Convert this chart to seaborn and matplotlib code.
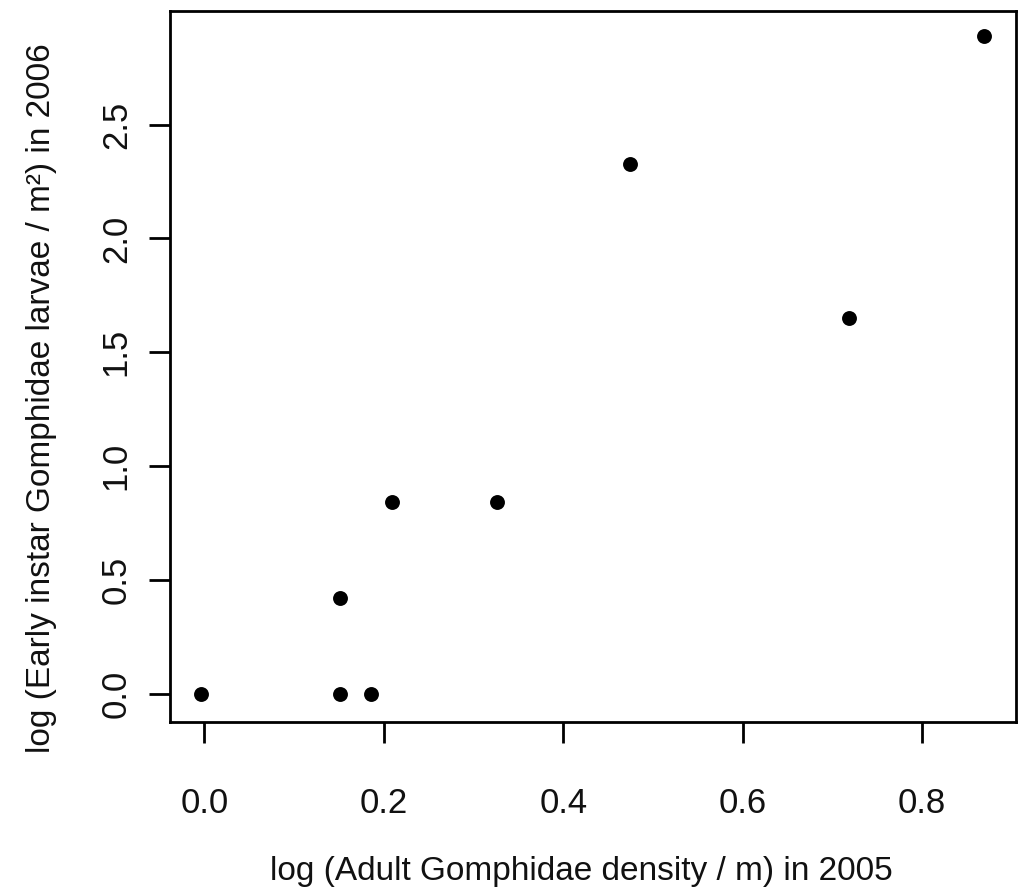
import matplotlib
matplotlib.use("Agg")
import matplotlib.pyplot as plt
import seaborn as sns

# log adult density 2005 vs log early instar larvae 2006
adult_2005 = [-0.004, 0.151, 0.186, 0.151, 0.209, 0.326, 0.474, 0.719, 0.869]
larvae_2006 = [0.0, 0.0, 0.0, 0.423, 0.844, 0.844, 2.328, 1.651, 2.890]

x_ticks = [0.0, 0.2, 0.4, 0.6, 0.8]
y_ticks = [0.0, 0.5, 1.0, 1.5, 2.0, 2.5]


def main():
    sns.set_style("ticks")
    plt.rcParams["font.family"] = ["Liberation Sans", "DejaVu Sans"]

    fig = plt.figure(figsize=(10.24, 8.96), dpi=100)
    ax = fig.add_axes([0.1663, 0.1942, 0.8262, 0.7938])

    sns.scatterplot(x=adult_2005, y=larvae_2006, ax=ax, color="black",
                    s=115, linewidth=0, marker="o")

    ax.set_xlim(-0.038, 0.905)
    ax.set_ylim(-0.123, 3.0)
    ax.set_xticks(x_ticks)
    ax.set_xticklabels([f"{t:.1f}" for t in x_ticks])
    ax.set_yticks(y_ticks)
    ax.set_yticklabels([f"{t:.1f}" for t in y_ticks], rotation=90, va="center")

    for side in ["top", "right", "bottom", "left"]:
        ax.spines[side].set_visible(True)
        ax.spines[side].set_linewidth(2.0)
        ax.spines[side].set_color("black")

    ax.tick_params(axis="both", length=15, width=2.0, color="black",
                   labelsize=25, labelcolor="#111111")
    ax.tick_params(axis="x", pad=32)
    ax.tick_params(axis="y", pad=12)

    ax.set_xlabel("log (Adult Gomphidae density / m) in 2005", fontsize=24,
                  va="center", color="#111111")
    ax.xaxis.set_label_coords(0.4855, -0.2095)
    ax.set_ylabel("log (Early instar Gomphidae larvae / m²) in 2006", fontsize=24,
                  va="center", color="#111111")
    ax.yaxis.set_label_coords(-0.1517, 0.4555)

    fig.savefig("out.png", dpi=100, facecolor="white")
    plt.close(fig)


if __name__ == "__main__":
    main()
